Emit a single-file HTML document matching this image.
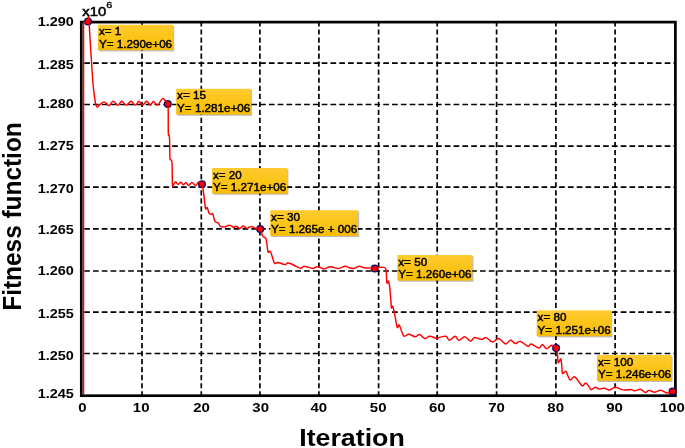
<!DOCTYPE html><html><head><meta charset="utf-8"><style>html,body{margin:0;padding:0;background:#fff;overflow:hidden;}svg{display:block;will-change:transform;filter:blur(0.35px);}text{font-family:"Liberation Sans",sans-serif;}</style></head><body>
<svg width="685" height="448" viewBox="0 0 685 448">
<defs><linearGradient id="g" x1="0" y1="0" x2="0" y2="1"><stop offset="0" stop-color="#ffcb30"/><stop offset="1" stop-color="#f8bd00"/></linearGradient><clipPath id="ax"><rect x="80" y="14" width="598" height="380.4"/></clipPath><filter id="sh" x="-10%" y="-20%" width="130%" height="160%"><feGaussianBlur stdDeviation="0.6"/></filter></defs>
<rect width="685" height="448" fill="#fff"/>
<g stroke="#000" stroke-width="1.7" stroke-dasharray="5.2 2.84" stroke-dashoffset="0.7" fill="none"><line x1="142.0" y1="395.7" x2="142.0" y2="22.1"/><line x1="201.3" y1="395.7" x2="201.3" y2="22.1"/><line x1="259.9" y1="395.7" x2="259.9" y2="22.1"/><line x1="318.9" y1="395.7" x2="318.9" y2="22.1"/><line x1="378.6" y1="395.7" x2="378.6" y2="22.1"/><line x1="437.2" y1="395.7" x2="437.2" y2="22.1"/><line x1="496.6" y1="395.7" x2="496.6" y2="22.1"/><line x1="555.9" y1="395.7" x2="555.9" y2="22.1"/><line x1="615.1" y1="395.7" x2="615.1" y2="22.1"/></g>
<g stroke="#000" stroke-width="1.7" stroke-dasharray="5.7 3.095" fill="none"><line x1="84.2" y1="353.5" x2="675.4" y2="353.5"/><line x1="84.2" y1="312.2" x2="675.4" y2="312.2"/><line x1="84.2" y1="271.0" x2="675.4" y2="271.0"/><line x1="84.2" y1="228.9" x2="675.4" y2="228.9"/><line x1="84.2" y1="187.1" x2="675.4" y2="187.1"/><line x1="84.2" y1="146.2" x2="675.4" y2="146.2"/><line x1="84.2" y1="104.5" x2="675.4" y2="104.5"/><line x1="84.2" y1="63.1" x2="675.4" y2="63.1"/></g>
<rect x="81.3" y="22.1" width="594.1" height="373.6" fill="none" stroke="#000" stroke-width="2.7"/>
<circle cx="88.0" cy="21.6" r="3.35" fill="#f00" stroke="#0c0c66" stroke-width="1.3"/>
<circle cx="167.8" cy="104.0" r="3.35" fill="#f00" stroke="#0c0c66" stroke-width="1.3"/>
<circle cx="202.0" cy="184.2" r="3.35" fill="#f00" stroke="#0c0c66" stroke-width="1.3"/>
<circle cx="260.2" cy="228.9" r="3.35" fill="#f00" stroke="#0c0c66" stroke-width="1.3"/>
<circle cx="374.7" cy="268.6" r="3.35" fill="#f00" stroke="#0c0c66" stroke-width="1.3"/>
<circle cx="556.1" cy="348.0" r="3.35" fill="#f00" stroke="#0c0c66" stroke-width="1.3"/>
<circle cx="672.6" cy="391.4" r="3.35" fill="#f00" stroke="#0c0c66" stroke-width="1.3"/>
<g clip-path="url(#ax)"><path d="M83.55,460 L83.55,22.7 L86.3,22.2 L88.7,16.2 L89.0,21.6  C89.62,31.33 91.70,66.92 92.70,80.00 C93.70,93.08 94.50,96.08 95.00,100.10 C95.50,104.12 95.35,102.95 95.70,104.10 C96.05,105.25 96.53,106.77 97.10,107.00 C97.67,107.23 98.38,106.10 99.10,105.50 C99.82,104.90 100.57,104.00 101.40,103.40 C102.23,102.80 103.20,101.83 104.10,101.90 C105.00,101.97 105.97,103.18 106.80,103.80 C107.63,104.42 108.05,106.02 109.10,105.60 C110.15,105.18 111.63,101.37 113.10,101.30 C114.57,101.23 116.45,105.20 117.90,105.20 C119.35,105.20 120.42,101.30 121.80,101.30 C123.18,101.30 124.67,105.20 126.20,105.20 C127.73,105.20 129.47,101.30 131.00,101.30 C132.53,101.30 134.08,105.20 135.40,105.20 C136.72,105.20 137.73,101.30 138.90,101.30 C140.07,101.30 141.08,105.20 142.40,105.20 C143.72,105.20 145.48,101.30 146.80,101.30 C148.12,101.30 149.20,105.17 150.30,105.20 C151.40,105.23 152.17,101.52 153.40,101.50 C154.63,101.48 156.17,105.58 157.70,105.10 C159.23,104.62 160.92,98.78 162.60,98.60 C164.28,98.42 166.93,103.10 167.80,104.00  C167.87,104.67 168.12,103.17 168.20,108.00 C168.28,112.83 168.17,128.50 168.30,133.00 C168.43,137.50 168.78,133.83 169.00,135.00 C169.22,136.17 169.45,136.25 169.60,140.00 C169.75,143.75 169.72,154.22 169.90,157.50 C170.08,160.78 170.35,158.78 170.70,159.70 C171.05,160.62 171.72,158.90 172.00,163.00 C172.28,167.10 172.23,180.57 172.40,184.30 C172.57,188.03 172.43,185.82 173.00,185.40 C173.57,184.98 175.00,181.95 175.80,181.80 C176.60,181.65 176.92,184.43 177.80,184.50 C178.68,184.57 180.22,182.15 181.10,182.20 C181.98,182.25 182.28,184.70 183.10,184.80 C183.92,184.90 185.07,182.70 186.00,182.80 C186.93,182.90 187.72,185.45 188.70,185.40 C189.68,185.35 190.75,182.50 191.90,182.50 C193.05,182.50 194.50,185.45 195.60,185.40 C196.70,185.35 197.43,182.40 198.50,182.20 C199.57,182.00 201.17,182.52 202.00,184.20 C202.83,185.88 203.05,189.32 203.50,192.30 C203.95,195.28 204.35,199.35 204.70,202.10 C205.05,204.85 205.18,207.88 205.60,208.80 C206.02,209.72 206.63,206.88 207.20,207.60 C207.77,208.32 208.38,211.97 209.00,213.10 C209.62,214.23 210.28,214.30 210.90,214.40 C211.52,214.50 212.08,212.68 212.70,213.70 C213.32,214.72 213.98,219.07 214.60,220.50 C215.22,221.93 215.90,221.95 216.40,222.30 C216.90,222.65 217.22,222.40 217.60,222.60 C217.98,222.80 218.27,222.88 218.70,223.50 C219.13,224.12 219.58,225.72 220.20,226.30 C220.82,226.88 221.55,226.93 222.40,227.00 C223.25,227.07 224.15,227.00 225.30,226.70 C226.45,226.40 228.27,225.32 229.30,225.20 C230.33,225.08 230.77,225.63 231.50,226.00 C232.23,226.37 233.03,227.35 233.70,227.40 C234.37,227.45 234.83,226.37 235.50,226.30 C236.17,226.23 236.97,226.63 237.70,227.00 C238.43,227.37 239.05,228.67 239.90,228.50 C240.75,228.33 241.95,226.25 242.80,226.00 C243.65,225.75 244.27,226.58 245.00,227.00 C245.73,227.42 246.47,228.50 247.20,228.50 C247.93,228.50 248.55,227.30 249.40,227.00 C250.25,226.70 251.33,226.52 252.30,226.70 C253.27,226.88 253.88,227.73 255.20,228.10 C256.52,228.47 258.98,227.58 260.20,228.90 C261.42,230.22 261.65,234.52 262.50,236.00 C263.35,237.48 264.65,237.03 265.30,237.80 C265.95,238.57 265.95,238.27 266.40,240.60 C266.85,242.93 267.45,250.03 268.00,251.80 C268.55,253.57 269.13,250.83 269.70,251.20 C270.27,251.57 270.83,252.60 271.40,254.00 C271.97,255.40 272.55,258.02 273.10,259.60 C273.65,261.18 273.97,263.03 274.70,263.50 C275.43,263.97 276.38,262.40 277.50,262.40 C278.62,262.40 280.10,263.13 281.40,263.50 C282.70,263.87 284.27,264.68 285.30,264.60 C286.33,264.52 286.57,263.10 287.60,263.00 C288.63,262.90 290.10,263.45 291.50,264.00 C292.90,264.55 294.45,265.58 296.00,266.30 C297.55,267.02 299.55,268.27 300.80,268.30 C302.05,268.33 302.52,266.77 303.50,266.50 C304.48,266.23 305.20,266.37 306.70,266.70 C308.20,267.03 310.80,268.50 312.50,268.50 C314.20,268.50 315.80,266.95 316.90,266.70 C318.00,266.45 317.88,266.63 319.10,267.00 C320.32,267.37 322.38,268.95 324.20,268.90 C326.02,268.85 328.42,266.95 330.00,266.70 C331.58,266.45 332.23,267.10 333.70,267.40 C335.17,267.70 336.90,268.68 338.80,268.50 C340.70,268.32 343.32,266.42 345.10,266.30 C346.88,266.18 348.03,267.43 349.50,267.80 C350.97,268.17 352.27,268.75 353.90,268.50 C355.53,268.25 357.60,266.42 359.30,266.30 C361.00,266.18 362.45,267.50 364.10,267.80 C365.75,268.10 367.43,268.05 369.20,268.10 C370.97,268.15 373.12,268.22 374.70,268.10 C376.28,267.98 377.18,267.52 378.70,267.40 C380.22,267.28 382.65,267.22 383.80,267.40 C384.95,267.58 385.18,267.72 385.60,268.50 C386.02,269.28 386.08,269.70 386.30,272.10 C386.52,274.50 386.55,281.40 386.90,282.90 C387.25,284.40 387.95,280.52 388.40,281.10 C388.85,281.68 389.18,283.13 389.60,286.40 C390.02,289.67 390.60,297.12 390.90,300.70 C391.20,304.28 391.12,307.00 391.40,307.90 C391.68,308.80 392.15,305.52 392.60,306.10 C393.05,306.68 393.62,309.32 394.10,311.40 C394.58,313.48 394.97,315.92 395.50,318.60 C396.03,321.28 396.70,326.47 397.30,327.50 C397.90,328.53 398.50,324.50 399.10,324.80 C399.70,325.10 400.32,327.80 400.90,329.30 C401.48,330.80 402.02,332.63 402.60,333.80 C403.18,334.97 403.37,336.22 404.40,336.30 C405.43,336.38 406.98,334.23 408.80,334.30 C410.62,334.37 413.48,336.67 415.30,336.70 C417.12,336.73 418.12,334.20 419.70,334.50 C421.28,334.80 423.10,338.20 424.80,338.50 C426.50,338.80 427.95,336.30 429.90,336.30 C431.85,336.30 434.92,338.32 436.50,338.50 C438.08,338.68 437.93,337.77 439.40,337.40 C440.87,337.03 444.07,336.40 445.30,336.30 C446.53,336.20 446.12,336.13 446.80,336.80 C447.48,337.47 448.02,340.38 449.40,340.30 C450.78,340.22 453.50,336.30 455.10,336.30 C456.70,336.30 457.40,340.22 459.00,340.30 C460.60,340.38 462.80,336.67 464.70,336.80 C466.60,336.93 468.80,340.97 470.40,341.10 C472.00,341.23 472.98,338.03 474.30,337.60 C475.62,337.17 477.05,338.20 478.30,338.50 C479.55,338.80 480.48,339.55 481.80,339.40 C483.12,339.25 484.45,337.17 486.20,337.60 C487.95,338.03 490.18,341.85 492.30,342.00 C494.42,342.15 496.67,338.17 498.90,338.50 C501.13,338.83 503.77,343.73 505.70,344.00 C507.63,344.27 508.90,340.17 510.50,340.10 C512.10,340.03 513.70,343.38 515.30,343.60 C516.90,343.82 517.98,340.97 520.10,341.40 C522.22,341.83 526.17,345.77 528.00,346.20 C529.83,346.63 529.27,343.70 531.10,344.00 C532.93,344.30 537.10,347.92 539.00,348.00 C540.90,348.08 541.27,344.37 542.50,344.50 C543.73,344.63 544.87,348.67 546.40,348.80 C547.93,348.93 550.08,345.43 551.70,345.30 C553.32,345.17 555.15,346.83 556.10,348.00 C557.05,349.17 557.08,349.95 557.40,352.30 C557.72,354.65 557.70,360.57 558.00,362.10 C558.30,363.63 558.73,362.02 559.20,361.50 C559.67,360.98 560.38,358.50 560.80,359.00 C561.22,359.50 561.45,362.15 561.70,364.50 C561.95,366.85 561.90,371.77 562.30,373.10 C562.70,374.43 563.48,372.80 564.10,372.50 C564.72,372.20 565.38,370.78 566.00,371.30 C566.62,371.82 567.10,374.17 567.80,375.60 C568.50,377.03 569.08,379.70 570.20,379.90 C571.32,380.10 573.07,376.50 574.50,376.80 C575.93,377.10 577.47,380.17 578.80,381.70 C580.13,383.23 581.37,385.78 582.50,386.00 C583.63,386.22 584.57,383.00 585.60,383.00 C586.63,383.00 587.78,384.88 588.70,386.00 C589.62,387.12 589.98,389.50 591.10,389.70 C592.22,389.90 594.07,387.30 595.40,387.20 C596.73,387.10 597.62,388.93 599.10,389.10 C600.58,389.27 602.60,388.05 604.30,388.20 C606.00,388.35 607.48,390.15 609.30,390.00 C611.12,389.85 612.85,387.32 615.20,387.30 C617.55,387.28 620.68,389.52 623.40,389.90 C626.12,390.28 629.57,389.45 631.50,389.60 C633.43,389.75 633.53,390.87 635.00,390.80 C636.47,390.73 638.55,388.92 640.30,389.20 C642.05,389.48 644.05,392.30 645.50,392.50 C646.95,392.70 647.43,390.43 649.00,390.40 C650.57,390.37 652.95,392.33 654.90,392.30 C656.85,392.27 658.85,390.12 660.70,390.20 C662.55,390.28 664.63,392.42 666.00,392.80 C667.37,393.18 667.80,392.73 668.90,392.50 C670.00,392.27 671.98,391.58 672.60,391.40" fill="none" stroke="#f00" stroke-width="1.45" stroke-linejoin="round"/></g>
<rect x="99.2" y="25.9" width="75.0" height="25.5" fill="#000" opacity="0.25" filter="url(#sh)"/>
<rect x="98.0" y="24.7" width="75.0" height="25.5" fill="url(#g)"/>
<text transform="translate(98.9,35.3) scale(1.16,1)" font-size="10.05" fill="#000" stroke="#000" stroke-width="0.42">x= 1</text>
<text transform="translate(98.9,47.8) scale(1.16,1)" font-size="10.05" fill="#000" stroke="#000" stroke-width="0.42">Y= 1.290e+06</text>
<rect x="177.4" y="90.0" width="74.6" height="25.8" fill="#000" opacity="0.25" filter="url(#sh)"/>
<rect x="176.2" y="88.8" width="74.6" height="25.8" fill="url(#g)"/>
<text transform="translate(177.1,99.4) scale(1.16,1)" font-size="10.05" fill="#000" stroke="#000" stroke-width="0.42">x= 15</text>
<text transform="translate(177.1,111.9) scale(1.16,1)" font-size="10.05" fill="#000" stroke="#000" stroke-width="0.42">Y= 1.281e+06</text>
<rect x="213.3" y="169.2" width="75.1" height="25.6" fill="#000" opacity="0.25" filter="url(#sh)"/>
<rect x="212.1" y="168.0" width="75.1" height="25.6" fill="url(#g)"/>
<text transform="translate(213.0,178.6) scale(1.16,1)" font-size="10.05" fill="#000" stroke="#000" stroke-width="0.42">x= 20</text>
<text transform="translate(213.0,191.2) scale(1.16,1)" font-size="10.05" fill="#000" stroke="#000" stroke-width="0.42">Y= 1.271e+06</text>
<rect x="271.4" y="211.4" width="87.8" height="25.7" fill="#000" opacity="0.25" filter="url(#sh)"/>
<rect x="270.2" y="210.2" width="87.8" height="25.7" fill="url(#g)"/>
<text transform="translate(271.1,220.8) scale(1.16,1)" font-size="10.05" fill="#000" stroke="#000" stroke-width="0.42">x= 30</text>
<text transform="translate(271.1,233.3) scale(1.16,1)" font-size="10.05" fill="#000" stroke="#000" stroke-width="0.42">Y= 1.265e + 006</text>
<rect x="398.6" y="256.2" width="74.9" height="25.6" fill="#000" opacity="0.25" filter="url(#sh)"/>
<rect x="397.4" y="255.0" width="74.9" height="25.6" fill="url(#g)"/>
<text transform="translate(398.3,265.6) scale(1.16,1)" font-size="10.05" fill="#000" stroke="#000" stroke-width="0.42">x= 50</text>
<text transform="translate(398.3,278.1) scale(1.16,1)" font-size="10.05" fill="#000" stroke="#000" stroke-width="0.42">Y= 1.260e+06</text>
<rect x="537.9" y="311.6" width="74.4" height="25.8" fill="#000" opacity="0.25" filter="url(#sh)"/>
<rect x="536.7" y="310.4" width="74.4" height="25.8" fill="url(#g)"/>
<text transform="translate(537.6,321.0) scale(1.16,1)" font-size="10.05" fill="#000" stroke="#000" stroke-width="0.42">x= 80</text>
<text transform="translate(537.6,333.5) scale(1.16,1)" font-size="10.05" fill="#000" stroke="#000" stroke-width="0.42">Y= 1.251e+06</text>
<rect x="598.2" y="356.2" width="74.4" height="25.8" fill="#000" opacity="0.25" filter="url(#sh)"/>
<rect x="597.0" y="355.0" width="74.4" height="25.8" fill="url(#g)"/>
<text transform="translate(597.9,365.6) scale(1.16,1)" font-size="10.05" fill="#000" stroke="#000" stroke-width="0.42">x= 100</text>
<text transform="translate(597.9,378.1) scale(1.16,1)" font-size="10.05" fill="#000" stroke="#000" stroke-width="0.42">Y= 1.246e+06</text>
<text transform="translate(73.9,398.05) scale(1.08,1)" font-size="13.4" font-weight="bold" text-anchor="end">1.245</text>
<text transform="translate(73.9,360.25) scale(1.08,1)" font-size="13.4" font-weight="bold" text-anchor="end">1.250</text>
<text transform="translate(73.9,318.15) scale(1.08,1)" font-size="13.4" font-weight="bold" text-anchor="end">1.255</text>
<text transform="translate(73.9,275.45) scale(1.08,1)" font-size="13.4" font-weight="bold" text-anchor="end">1.260</text>
<text transform="translate(73.9,234.05) scale(1.08,1)" font-size="13.4" font-weight="bold" text-anchor="end">1.265</text>
<text transform="translate(73.9,193.25) scale(1.08,1)" font-size="13.4" font-weight="bold" text-anchor="end">1.270</text>
<text transform="translate(73.9,149.85) scale(1.08,1)" font-size="13.4" font-weight="bold" text-anchor="end">1.275</text>
<text transform="translate(73.9,107.75) scale(1.08,1)" font-size="13.4" font-weight="bold" text-anchor="end">1.280</text>
<text transform="translate(73.9,68.60) scale(1.08,1)" font-size="13.4" font-weight="bold" text-anchor="end">1.285</text>
<text transform="translate(73.9,25.60) scale(1.08,1)" font-size="13.4" font-weight="bold" text-anchor="end">1.290</text>
<text transform="translate(82.30,411.8) scale(1.12,1)" font-size="13.4" font-weight="bold" text-anchor="middle">0</text>
<text transform="translate(141.20,411.8) scale(1.12,1)" font-size="13.4" font-weight="bold" text-anchor="middle">10</text>
<text transform="translate(201.50,411.8) scale(1.12,1)" font-size="13.4" font-weight="bold" text-anchor="middle">20</text>
<text transform="translate(260.70,411.8) scale(1.12,1)" font-size="13.4" font-weight="bold" text-anchor="middle">30</text>
<text transform="translate(318.80,411.8) scale(1.12,1)" font-size="13.4" font-weight="bold" text-anchor="middle">40</text>
<text transform="translate(378.20,411.8) scale(1.12,1)" font-size="13.4" font-weight="bold" text-anchor="middle">50</text>
<text transform="translate(437.30,411.8) scale(1.12,1)" font-size="13.4" font-weight="bold" text-anchor="middle">60</text>
<text transform="translate(496.60,411.8) scale(1.12,1)" font-size="13.4" font-weight="bold" text-anchor="middle">70</text>
<text transform="translate(555.70,411.8) scale(1.12,1)" font-size="13.4" font-weight="bold" text-anchor="middle">80</text>
<text transform="translate(614.50,411.8) scale(1.12,1)" font-size="13.4" font-weight="bold" text-anchor="middle">90</text>
<text transform="translate(672.30,411.8) scale(1.12,1)" font-size="13.4" font-weight="bold" text-anchor="middle">100</text>
<text transform="translate(82.3,15.8) scale(1.1,1)" font-size="13.5" stroke="#000" stroke-width="0.55">x10</text>
<text transform="translate(106.3,8.1) scale(1.1,1)" font-size="9.9" stroke="#000" stroke-width="0.35">6</text>
<text transform="translate(352,445.5) scale(1.12,1)" font-size="23.9" font-weight="bold" text-anchor="middle">Iteration</text>
<text transform="translate(21.3,216.5) rotate(-90) scale(1,1.09)" font-size="24.4" font-weight="bold" text-anchor="middle">Fitness function</text>
</svg></body></html>
